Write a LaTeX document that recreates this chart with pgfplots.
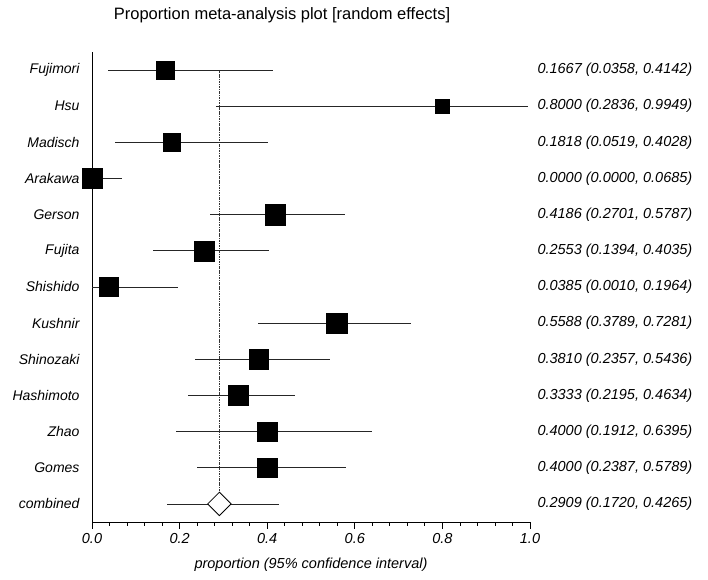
\documentclass[border=0pt]{standalone}
\usepackage{pgfplots}
\usepackage{pgfplotstable}
\pgfplotsset{compat=1.18}
\usepackage{fontspec}
\setmainfont{Liberation Sans}
\newcommand\lf{\fontsize{14.5bp}{17bp}\selectfont\itshape}
\newcommand\nf{\fontsize{14bp}{17bp}\selectfont\itshape}
\pgfplotstableread{
y    p      lo     hi     s
0    0.1667 0.0358 0.4142 8.9
-1   0.8000 0.2836 0.9949 6.9
-2   0.1818 0.0519 0.4028 8.9
-3   0.0000 0.0000 0.0685 9.9
-4   0.4186 0.2701 0.5787 10.2
-5   0.2553 0.1394 0.4035 10.1
-6   0.0385 0.0010 0.1964 9.4
-7   0.5588 0.3789 0.7281 10.2
-8   0.3810 0.2357 0.5436 9.8
-9   0.3333 0.2195 0.4634 10.1
-10  0.4000 0.1912 0.6395 9.6
-11  0.4000 0.2387 0.5789 9.9
}\studies
\pgfplotstableread{
y    p      lo     hi
-12  0.2909 0.1720 0.4265
}\combined
\begin{document}
\begin{tikzpicture}[x=1bp,y=1bp]
\path[use as bounding box] (0,0) rectangle (708,580);
\node[font=\fontsize{16.5bp}{19bp}\selectfont] at (282,565) {Proportion meta-analysis plot [random effects]};
\begin{axis}[
  at={(92bp,58bp)}, anchor=south west,
  scale only axis, width=438bp, height=470bp,
  xmin=0, xmax=1, ymin=-12.5, ymax=0.5,
  axis x line*=bottom, axis y line*=left,
  axis line style={-, line width=0.8bp, black},
  ytick=\empty,
  xtick={0,0.2,0.4,0.6,0.8,1},
  minor x tick num=4,
  tick align=outside,
  major tick length=7bp, minor tick length=4bp,
  every tick/.style={line width=0.8bp, black},
  /pgf/number format/assume math mode=true,
  xticklabel style={font=\lf, yshift=-1bp, /pgf/number format/.cd, fixed, fixed zerofill, precision=1},
  xlabel={proportion (95\% confidence interval)},
  xlabel style={font=\lf, yshift=-7bp},
  clip=false,
]
\addplot[black!80, line width=0.8bp, dash pattern=on 2.5bp off 1bp on 0.8bp off 1bp] coordinates {(0.2909,0) (0.2909,-12)};
\addplot[draw=none, mark=none, error bars/.cd, x dir=both, x explicit, error mark=none,
  error bar style={draw=black!85, line width=0.8bp, solid}]
  table[x=p, y=y, x error plus expr=\thisrow{hi}-\thisrow{p}, x error minus expr=\thisrow{p}-\thisrow{lo}] {\studies};
\addplot[draw=none, mark=none, error bars/.cd, x dir=both, x explicit, error mark=none,
  error bar style={draw=black!85, line width=0.8bp, solid}]
  table[x=p, y=y, x error plus expr=\thisrow{hi}-\thisrow{p}, x error minus expr=\thisrow{p}-\thisrow{lo}] {\combined};
\addplot[scatter, only marks, mark=square*,
  scatter/use mapped color={draw=black, fill=black},
  visualization depends on={\thisrow{s}\as\perpointmarksize},
  scatter/@pre marker code/.append style={/tikz/mark size=\perpointmarksize}]
  table[x=p, y=y] {\studies};
\addplot[only marks, mark=square*, mark size=8.3, mark options={rotate=45, fill=white, draw=black, line width=0.8bp}]
  table[x=p, y=y] {\combined};
\begin{scope}[every node/.style={font=\nf}]
\node[anchor=east, xshift=-9bp] at (axis cs:0,0) {Fujimori};
\node[anchor=east, xshift=-9bp] at (axis cs:0,-1) {Hsu};
\node[anchor=east, xshift=-9bp] at (axis cs:0,-2) {Madisch};
\node[anchor=east, xshift=-9bp] at (axis cs:0,-3) {Arakawa};
\node[anchor=east, xshift=-9bp] at (axis cs:0,-4) {Gerson};
\node[anchor=east, xshift=-9bp] at (axis cs:0,-5) {Fujita};
\node[anchor=east, xshift=-9bp] at (axis cs:0,-6) {Shishido};
\node[anchor=east, xshift=-9bp] at (axis cs:0,-7) {Kushnir};
\node[anchor=east, xshift=-9bp] at (axis cs:0,-8) {Shinozaki};
\node[anchor=east, xshift=-9bp] at (axis cs:0,-9) {Hashimoto};
\node[anchor=east, xshift=-9bp] at (axis cs:0,-10) {Zhao};
\node[anchor=east, xshift=-9bp] at (axis cs:0,-11) {Gomes};
\node[anchor=east, xshift=-9bp] at (axis cs:0,-12) {combined};
\end{scope}
\begin{scope}[every node/.style={font=\lf}]
\node[anchor=west, xshift=4bp] at (axis cs:1,0) {0.1667 (0.0358, 0.4142)};
\node[anchor=west, xshift=4bp] at (axis cs:1,-1) {0.8000 (0.2836, 0.9949)};
\node[anchor=west, xshift=4bp] at (axis cs:1,-2) {0.1818 (0.0519, 0.4028)};
\node[anchor=west, xshift=4bp] at (axis cs:1,-3) {0.0000 (0.0000, 0.0685)};
\node[anchor=west, xshift=4bp] at (axis cs:1,-4) {0.4186 (0.2701, 0.5787)};
\node[anchor=west, xshift=4bp] at (axis cs:1,-5) {0.2553 (0.1394, 0.4035)};
\node[anchor=west, xshift=4bp] at (axis cs:1,-6) {0.0385 (0.0010, 0.1964)};
\node[anchor=west, xshift=4bp] at (axis cs:1,-7) {0.5588 (0.3789, 0.7281)};
\node[anchor=west, xshift=4bp] at (axis cs:1,-8) {0.3810 (0.2357, 0.5436)};
\node[anchor=west, xshift=4bp] at (axis cs:1,-9) {0.3333 (0.2195, 0.4634)};
\node[anchor=west, xshift=4bp] at (axis cs:1,-10) {0.4000 (0.1912, 0.6395)};
\node[anchor=west, xshift=4bp] at (axis cs:1,-11) {0.4000 (0.2387, 0.5789)};
\node[anchor=west, xshift=4bp] at (axis cs:1,-12) {0.2909 (0.1720, 0.4265)};
\end{scope}
\end{axis}
\end{tikzpicture}
\end{document}
